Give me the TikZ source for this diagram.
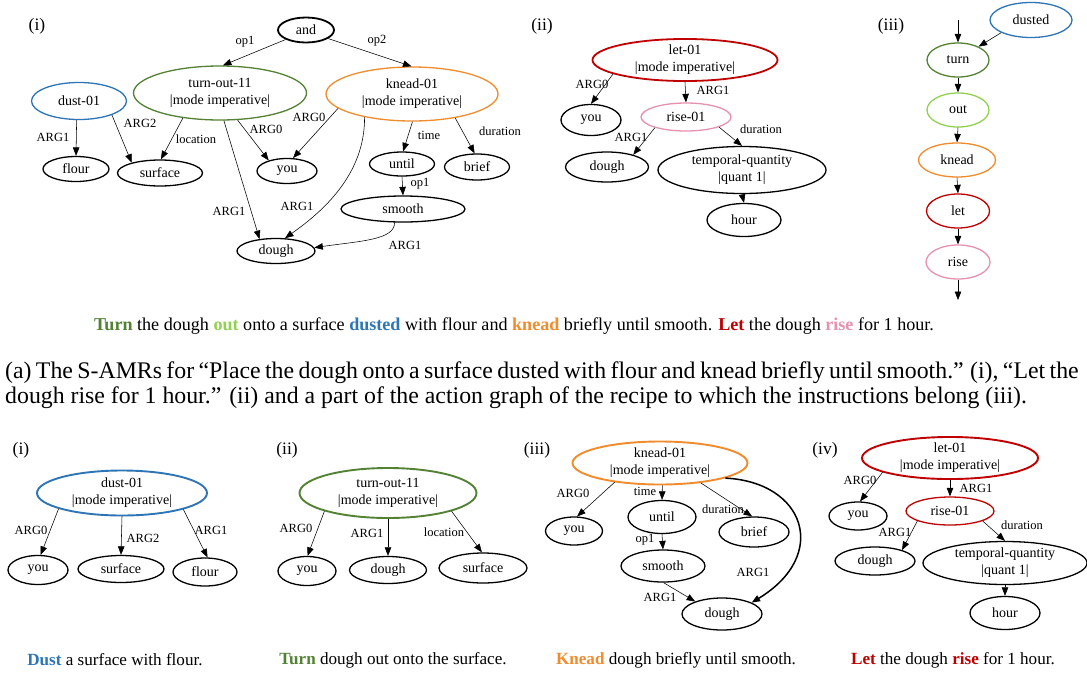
\documentclass[tikz,border=0pt]{standalone}
\usepackage{fontspec}
\setmainfont{Liberation Serif}
\usetikzlibrary{shapes.geometric,arrows.meta}
\definecolor{cblue}{RGB}{46,117,182}
\definecolor{cgreen}{RGB}{84,130,53}
\definecolor{clgreen}{RGB}{146,208,80}
\definecolor{corange}{RGB}{241,140,45}
\definecolor{cred}{RGB}{192,0,0}
\definecolor{cpink}{RGB}{230,145,175}
\begin{document}
\begin{tikzpicture}[x=1pt,y=-1pt,
  nd/.style={ellipse, draw=black, line width=1.3pt, inner sep=0pt, align=center,
    font=\fontsize{14}{17}\selectfont},
  sz/.style 2 args={minimum width=#1pt, minimum height=#2pt},
  thk/.style={line width=1.9pt},
  edge/.style={draw=black, line width=0.55pt, -{Triangle[length=8.5pt,width=6.5pt]}},
  lbl/.style={inner sep=0pt, font=\fontsize{12.5}{14}\selectfont},
  tag/.style={inner sep=0pt, font=\fontsize{17.5}{20}\selectfont},
  sent/.style={inner sep=0pt, font=\fontsize{17.1}{20}\selectfont},
  capt/.style={inner sep=0pt, anchor=west, font=\fontsize{23.8}{26}\selectfont}]
\useasboundingbox[fill=white] (0,0) rectangle (1087,673);

% ---------------- (a)(i): S-AMR of the first sentence ----------------
\node[tag] (tA1) at (37,26) {(i)};
\node[nd,sz={56}{25},line width=1.8pt] (and) at (306,30) {and};
\node[nd,sz={173}{54},draw=cgreen] (turnout) at (220,93) {turn-out-11\\|mode imperative|};
\node[nd,sz={172}{54},draw=corange] (knead) at (412,94) {knead-01\\|mode imperative|};
\node[nd,sz={95}{37},draw=cblue] (dust) at (79,101) {dust-01};
\node[nd,sz={66}{25}] (flour) at (76,169) {flour};
\node[nd,sz={85}{26}] (surface) at (160,173) {surface};
\node[nd,sz={60}{25}] (you) at (287,171) {you};
\node[nd,sz={65}{24}] (until) at (402,164) {until};
\node[nd,sz={65}{26}] (brief) at (477,167) {brief};
\node[nd,sz={124}{26}] (smooth) at (403,209) {smooth};
\node[nd,sz={78}{25}] (dough) at (276,251) {dough};

\draw[edge] (and.205) -- (turnout.84);
\draw[edge] (and.339) -- (knead.91);
\draw[edge] (dust.263) -- (flour.90);
\draw[edge] (dust.337) -- (surface.160);
\draw[edge] (turnout.214) -- (surface.86);
\draw[edge] (turnout.303) -- (you.150);
\draw[edge] (turnout.278) -- (dough.144);
\draw[edge] (knead.191) -- (you.65);
\draw[edge] (knead.206) .. controls (365,175) and (322,212) .. (dough.55);
\draw[edge] (knead.271) -- (until.85);
\draw[edge] (knead.331) -- (brief.100);
\draw[edge] (until.270) -- (smooth.90);
\draw[edge] (smooth.238) .. controls (395,240) and (360,241) .. (dough.5);

\node[lbl] (l01) at (245,42) {op1};
\node[lbl] (l02) at (377,41) {op2};
\node[lbl] (l03) at (53,137) {ARG1};
\node[lbl] (l04) at (140,123) {ARG2};
\node[lbl] (l05) at (196,139) {location};
\node[lbl] (l06) at (266,129) {ARG0};
\node[lbl] (l07) at (229,211) {ARG1};
\node[lbl] (l08) at (309,117) {ARG0};
\node[lbl] (l09) at (297,206) {ARG1};
\node[lbl] (l10) at (429,135) {time};
\node[lbl] (l11) at (500,131) {duration};
\node[lbl] (l12) at (420,184) {op1};
\node[lbl] (l13) at (405,245) {ARG1};

% ---------------- (a)(ii): S-AMR of the second sentence ----------------
\node[tag] (tA2) at (542,26) {(ii)};
\node[nd,sz={185}{34},draw=cred,line width=1.8pt] (let) at (685,60) {let-01\\|mode imperative|};
\node[nd,sz={60}{31}] (youB) at (591,120) {you};
\node[nd,sz={90}{28},draw=cpink] (rise) at (686,117) {rise-01};
\node[nd,sz={83}{30}] (doughB) at (607,167) {dough};
\node[nd,sz={168}{47}] (tq) at (742,170) {temporal-quantity\\|quant 1|};
\node[nd,sz={74}{33}] (hour) at (744,220) {hour};

\draw[edge] (let.191) -- (youB.90);
\draw[edge] (let.270) -- (rise.90);
\draw[edge] (rise.199) -- (doughB.25);
\draw[edge] (rise.343) -- (tq.90);
\draw[edge] (tq.270) -- (hour.90);

\node[lbl] (l21) at (592,84) {ARG0};
\node[lbl] (l22) at (713,90) {ARG1};
\node[lbl] (l23) at (631,137) {ARG1};
\node[lbl] (l24) at (761,129) {duration};

% ---------------- (a)(iii): part of the action graph ----------------
\node[tag] (tA3) at (891,26) {(iii)};
\node[nd,sz={82}{35},draw=cblue] (dusted) at (1031,20) {dusted};
\node[nd,sz={62}{34},draw=cgreen] (turn) at (958,60) {turn};
\node[nd,sz={62}{34},draw=clgreen] (out) at (958,110) {out};
\node[nd,sz={77}{34},draw=corange] (kn) at (957,160) {knead};
\node[nd,sz={63}{34},draw=cred] (letC) at (958,211) {let};
\node[nd,sz={64}{34},draw=cpink] (riseC) at (958,262) {rise};
\coordinate (inflow) at (958,20);
\coordinate (outflow) at (958,300);

\draw[edge] (inflow) -- (turn.north);
\draw[edge] (dusted.203) -- (turn.33);
\draw[edge] (turn.south) -- (out.north);
\draw[edge] (out.south) -- (kn.north);
\draw[edge] (kn.south) -- (letC.north);
\draw[edge] (letC.south) -- (riseC.north);
\draw[edge] (riseC.south) -- (outflow);

% ---------------- recipe sentence and caption ----------------
\node[sent,font=\fontsize{18.1}{20}\selectfont] (recipe) at (514,326) {\textbf{\color{cgreen}Turn} the dough \textbf{\color{clgreen}out} onto a surface \textbf{\color{cblue}dusted} with flour and \textbf{\color{corange}knead} briefly until smooth. \textbf{\color{cred}Let} the dough \textbf{\color{cpink}rise} for 1 hour.};
\node[capt] (cap1) at (5,373) {\spaceskip=0.185em plus 0.05em\relax (a) The S-AMRs for “Place the dough onto a surface dusted with flour and knead briefly until smooth.” (i), “Let the};
\node[capt] (cap2) at (5,398) {dough rise for 1 hour.” (ii) and a part of the action graph of the recipe to which the instructions belong (iii).};

% ---------------- (b)(i) ----------------
\node[tag] (tB1) at (21,450) {(i)};
\node[nd,sz={170}{45},draw=cblue,thk] (bdust) at (122,493) {dust-01\\|mode imperative|};
\node[nd,sz={60}{29}] (byouA) at (38,570) {you};
\node[nd,sz={86}{27}] (bsurfA) at (121,569) {surface};
\node[nd,sz={64}{28}] (bflour) at (205,572) {flour};
\draw[edge] (bdust.194) -- (byouA.80);
\draw[edge] (bdust.270) -- (bsurfA.90);
\draw[edge] (bdust.345) -- (bflour.80);
\node[lbl] (l31) at (31,530) {ARG0};
\node[lbl] (l32) at (143,538) {ARG2};
\node[lbl] (l33) at (211,530) {ARG1};
\node[sent] (sB1) at (115,660) {\textbf{\color{cblue}Dust} a surface with flour.};

% ---------------- (b)(ii) ----------------
\node[tag] (tB2) at (287,450) {(ii)};
\node[nd,sz={177}{50},draw=cgreen,thk] (bturn) at (388,493) {turn-out-11\\|mode imperative|};
\node[nd,sz={58}{29}] (byouB) at (307,571) {you};
\node[nd,sz={77}{27}] (bdoughB) at (388,570) {dough};
\node[nd,sz={88}{30}] (bsurfB) at (483,568) {surface};
\draw[edge] (bturn.196) -- (byouB.88);
\draw[edge] (bturn.270) -- (bdoughB.90);
\draw[edge] (bturn.344) -- (bsurfB.94);
\node[lbl] (l41) at (296,528) {ARG0};
\node[lbl] (l42) at (367,533) {ARG1};
\node[lbl] (l43) at (444,532) {location};
\node[sent] (sB2) at (393,660) {\textbf{\color{cgreen}Turn} dough out onto the surface.};

% ---------------- (b)(iii) ----------------
\node[tag] (tB3) at (537,450) {(iii)};
\node[nd,sz={175}{43},draw=corange,thk] (bkn) at (660,463) {knead-01\\|mode imperative|};
\node[nd,sz={57}{28}] (byouC) at (574,531) {you};
\node[nd,sz={68}{33}] (buntil) at (662,517) {until};
\node[nd,sz={70}{30}] (bbrief) at (754,532) {brief};
\node[nd,sz={84}{32}] (bsmooth) at (663,566) {smooth};
\node[nd,sz={80}{32}] (bdoughC) at (722,614) {dough};
\draw[edge] (bkn.203) -- (byouC.78);
\draw[edge] (bkn.276) -- (buntil.90);
\draw[edge] (bkn.334) -- (bbrief.97);
\draw[edge] (buntil.270) -- (bsmooth.90);
\draw[edge] (bsmooth.272) -- (bdoughC.155);
\draw[edge,line width=1.5pt] (bkn.347) .. controls (805,482) and (830,555) .. (bdoughC.21);
\node[lbl] (l51) at (573,493) {ARG0};
\node[lbl] (l52) at (645,491) {time};
\node[lbl] (l53) at (723,509) {duration};
\node[lbl] (l54) at (645,540) {op1};
\node[lbl] (l55) at (660,597) {ARG1};
\node[lbl] (l56) at (753,572) {ARG1};
\node[sent] (sB3) at (676,660) {\textbf{\color{corange}Knead} dough briefly until smooth.};

% ---------------- (b)(iv) ----------------
\node[tag] (tB4) at (825,450) {(iv)};
\node[nd,sz={176}{37},draw=cred,thk] (blet) at (950,458) {let-01\\|mode imperative|};
\node[nd,sz={58}{28}] (byouD) at (858,516) {you};
\node[nd,sz={88}{28},draw=cred] (brise) at (950,511) {rise-01};
\node[nd,sz={80}{28}] (bdoughD) at (875,561) {dough};
\node[nd,sz={164}{43}] (btq) at (1005,563) {temporal-quantity\\|quant 1|};
\node[nd,sz={70}{33}] (bhour) at (1005,613) {hour};
\draw[edge] (blet.192) -- (byouD.82);
\draw[edge] (blet.270) -- (brise.90);
\draw[edge] (brise.197) -- (bdoughD.22);
\draw[edge] (brise.343) -- (btq.90);
\draw[edge] (btq.270) -- (bhour.90);
\node[lbl] (l61) at (860,480) {ARG0};
\node[lbl] (l62) at (976,488) {ARG1};
\node[lbl] (l63) at (895,532) {ARG1};
\node[lbl] (l64) at (1022,525) {duration};
\node[sent] (sB4) at (953,660) {\textbf{\color{cred}Let} the dough \textbf{\color{cred}rise} for 1 hour.};
\end{tikzpicture}
\end{document}
